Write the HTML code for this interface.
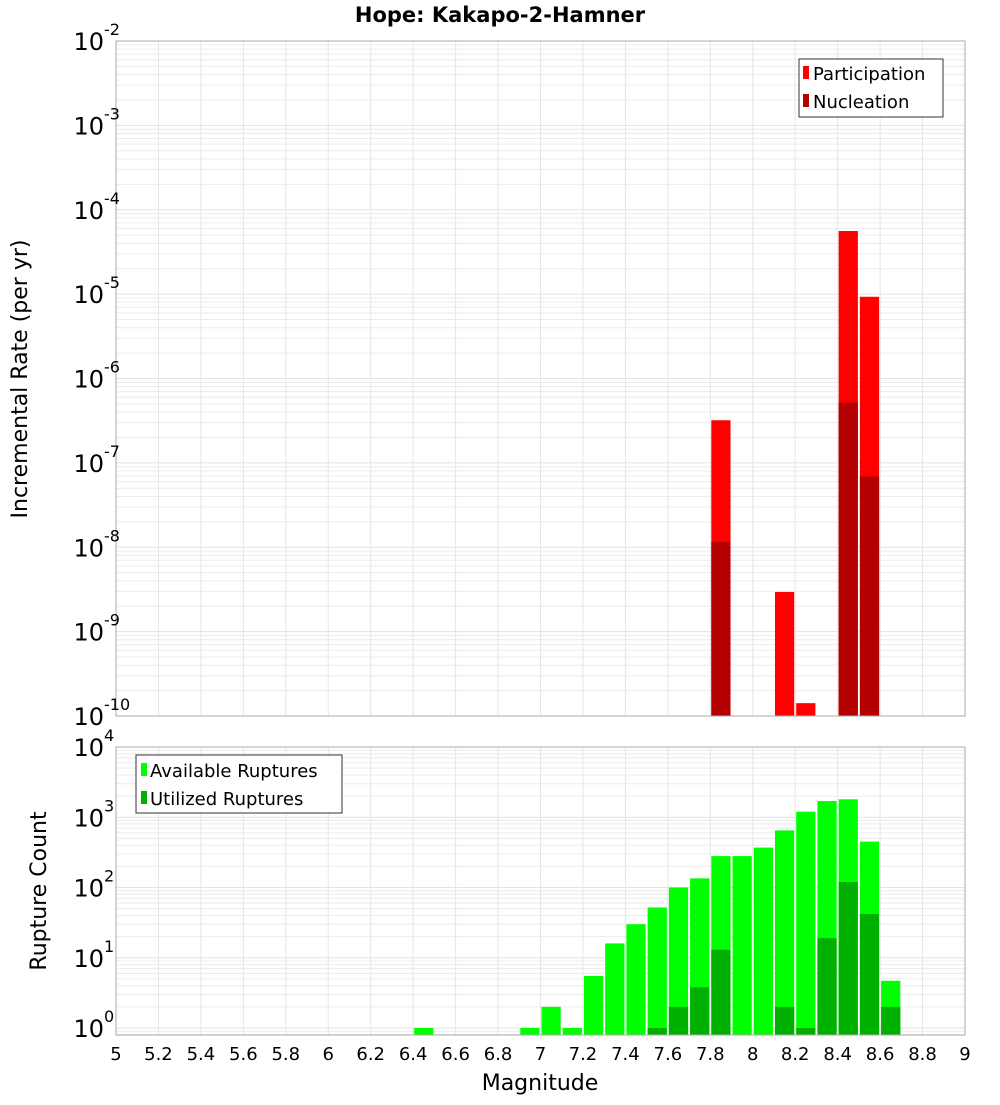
<!DOCTYPE html>
<html><head><meta charset="utf-8"><style>
body{margin:0;background:#fff;}
svg text{font-family:"DejaVu Sans","Liberation Sans",sans-serif;}
</style></head><body>
<svg id="c" width="1000" height="1100" xmlns="http://www.w3.org/2000/svg">
<text x="500" y="22" text-anchor="middle" font-size="21" font-weight="bold">Hope: Kakapo-2-Hamner</text>
<text transform="translate(27,379) rotate(-90)" text-anchor="middle" font-size="22">Incremental Rate (per yr)</text>
<text transform="translate(46,891) rotate(-90)" text-anchor="middle" font-size="22">Rupture Count</text>
<text x="540" y="1090" text-anchor="middle" font-size="22">Magnitude</text>
<g id="topPanel"></g><g id="botPanel"></g><g id="xt"></g>
<g>
<rect x="799" y="59" width="144" height="58" fill="#fff" stroke="#333"/>
<rect x="803" y="66" width="6" height="13" fill="#ff0000"/>
<text x="813" y="80" font-size="18">Participation</text>
<rect x="803" y="94" width="6" height="13" fill="#b30000"/>
<text x="813" y="108" font-size="18">Nucleation</text>
</g>
<g>
<rect x="136" y="755" width="206" height="58" fill="#fff" stroke="#333"/>
<rect x="141" y="763" width="6" height="13" fill="#00ff00"/>
<text x="150" y="777" font-size="18">Available Ruptures</text>
<rect x="141" y="791" width="6" height="13" fill="#00b000"/>
<text x="150" y="805" font-size="18">Utilized Ruptures</text>
</g>
</svg>
<script>
const bins=[6.4,6.9,7.0,7.1,7.2,7.3,7.4,7.5,7.6,7.7,7.8,7.9,8.0,8.1,8.2,8.3,8.4,8.5,8.6];
const available=[1,1,2,1,5.5,16,30,52,100,135,280,280,370,650,1200,1700,1800,450,4.7];
const utilized=[0,0,0,0,0,0,0,1,2,3.8,13,0,0,2,1,19,120,42,2];
const rateBins=[7.8,8.1,8.2,8.4,8.5];
const participation=[3.2e-7,2.95e-9,1.42e-10,5.6e-5,9.3e-6];
const nucleation=[1.15e-8,0,0,5.2e-7,6.9e-8];
const xTicks=[5,5.2,5.4,5.6,5.8,6,6.2,6.4,6.6,6.8,7,7.2,7.4,7.6,7.8,8,8.2,8.4,8.6,8.8,9];
const topExps=[-2,-3,-4,-5,-6,-7,-8,-9,-10];
const botExps=[4,3,2,1,0];
const NS='http://www.w3.org/2000/svg';
const X0=116,X1=965;
const xs=m=>X0+(m-5)/4*(X1-X0);
const yTop=v=>41+(-2-Math.log10(v))*84.375;
const yBot=v=>1028-Math.log10(v)*70.25;
function mk(p,t,a){const e=document.createElementNS(NS,t);for(const k in a)e.setAttribute(k,a[k]);p.appendChild(e);return e;}
function panel(g,y0,y1,ymap,lo,hi){
  mk(g,'rect',{x:X0,y:y0,width:X1-X0,height:y1-y0,fill:'#fff'});
  for(let d=lo;d<hi;d++)for(let k=1;k<10;k++){const y=ymap(k*Math.pow(10,d));if(y>=y0&&y<=y1){const l=mk(g,'line',{x1:X0,x2:X1,y1:y,y2:y,stroke:k==1?'#e2e2e2':'#ececec','stroke-width':1});}}
  xTicks.forEach(t=>{const x=xs(t);const l=mk(g,'line',{x1:x,x2:x,y1:y0,y2:y1,stroke:'#e6e6e6'});});
}
const gTop=document.getElementById('topPanel'),gBot=document.getElementById('botPanel');
panel(gTop,41,716,yTop,-10,-2);
panel(gBot,747,1035,yBot,-1,4);
rateBins.forEach((m,i)=>{
  const x=xs(m)+1,w=xs(m+0.1)-xs(m)-2;
  if(participation[i]>0){const y=Math.max(41,yTop(participation[i]));const r=mk(gTop,'rect',{x:x,y:y,width:w,height:716-y,fill:'#ff0000'});}
  if(nucleation[i]>0){const y=yTop(nucleation[i]);const r=mk(gTop,'rect',{x:x,y:y,width:w,height:716-y,fill:'#b30000'});}
});
bins.forEach((m,i)=>{
  const x=xs(m)+1,w=xs(m+0.1)-xs(m)-2;
  if(available[i]>0){const y=yBot(available[i]);const r=mk(gBot,'rect',{x:x,y:y,width:w,height:1035-y,fill:'#00ff00'});}
  if(utilized[i]>0){const y=yBot(utilized[i]);const r=mk(gBot,'rect',{x:x,y:y,width:w,height:1035-y,fill:'#00b000'});}
});
mk(gTop,'rect',{x:X0,y:41,width:X1-X0,height:675,fill:'none',stroke:'#aaa'});
mk(gBot,'rect',{x:X0,y:747,width:X1-X0,height:288,fill:'none',stroke:'#aaa'});
function ylab(g,e,y){const t=mk(g,'text',{x:104,y:y+9,'text-anchor':'end','font-size':24});t.textContent='10';const s=mk(g,'text',{x:104,y:y-6,'font-size':16});s.textContent=String(e);}
topExps.forEach(e=>ylab(gTop,e,yTop(Math.pow(10,e))));
botExps.forEach(e=>ylab(gBot,e,yBot(Math.pow(10,e))));
const xt=document.getElementById('xt');
xTicks.forEach(t=>{const e=mk(xt,'text',{x:xs(t),y:1060,'text-anchor':'middle','font-size':18});e.textContent=String(t);});
</script>
</body></html>
